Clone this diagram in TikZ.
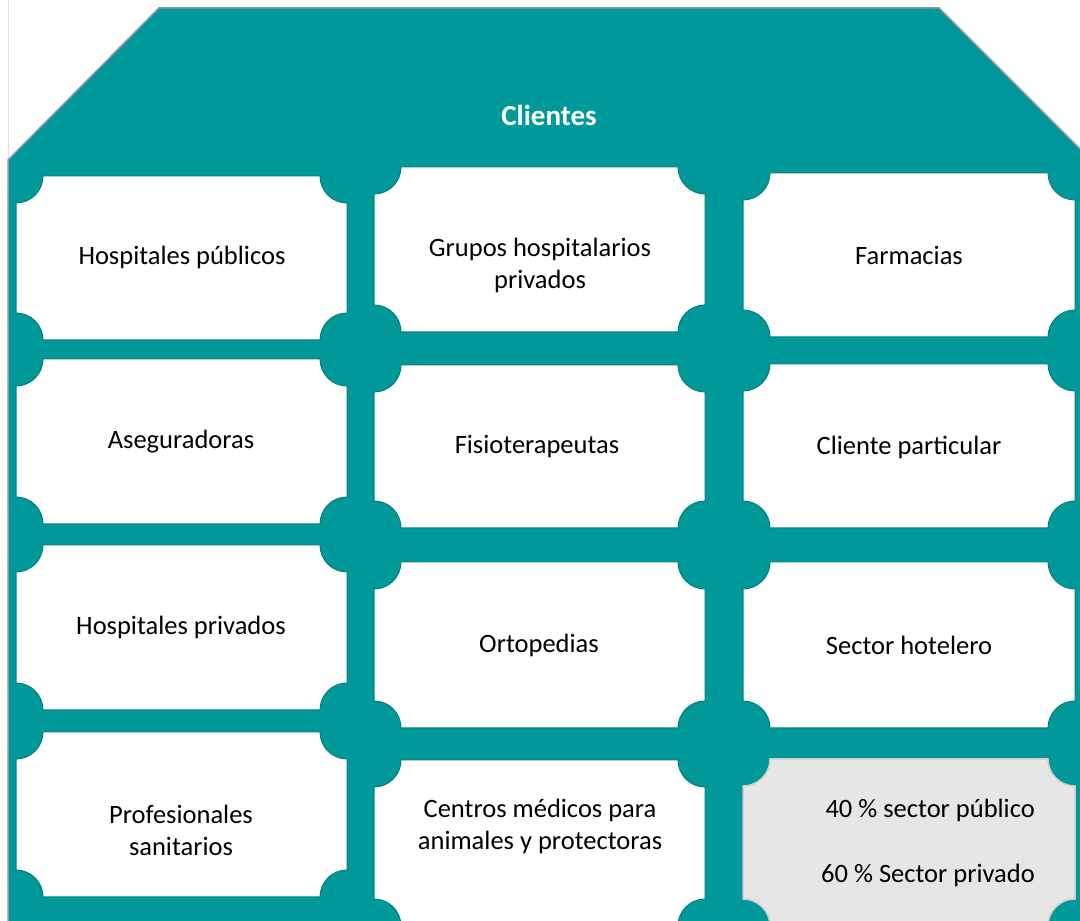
\documentclass[tikz,border=0pt]{standalone}
\usepackage{fontspec}
\setmainfont{Carlito}
\definecolor{tealmain}{RGB}{0,152,152}
\definecolor{tealedge}{RGB}{0,125,125}
\definecolor{edgeblue}{RGB}{132,150,176}
\definecolor{cellgray}{RGB}{230,230,230}
\definecolor{cellgrayline}{RGB}{205,205,205}
\definecolor{faintline}{RGB}{225,225,225}
\newcommand\plaquecell[5]{% x1, ybottom, x2, ytop, style
  \path[#5] (#1+27,#4) -- (#3-27,#4)
    arc[start angle=180,end angle=270,radius=27pt] -- (#3,#2+27)
    arc[start angle=90,end angle=180,radius=27pt] -- (#1+27,#2)
    arc[start angle=0,end angle=90,radius=27pt] -- (#1,#4-27)
    arc[start angle=270,end angle=360,radius=27pt] -- cycle;}
\begin{document}
\begin{tikzpicture}[x=1pt,y=1pt,
  cellwhite/.style={fill=white,draw=tealedge,line width=1pt},
  cellgrey/.style={fill=cellgray,draw=cellgrayline,line width=1.5pt},
  lbl/.style={font=\fontsize{26.5}{32}\selectfont,text=black,align=center,inner sep=0pt},
  titlelbl/.style={font=\fontsize{29}{34}\selectfont\bfseries,text=white,inner sep=0pt}]
\useasboundingbox (0,0) rectangle (1080,921);
\clip (0,0) rectangle (1080,921);
\fill[white] (0,0) rectangle (1080,921);
\draw[faintline,line width=1pt] (8,921) -- (8,760);
% roof and background
\path[fill=tealmain,draw=edgeblue,line width=1.5pt]
  (8,-10) -- (8,761) -- (159,913) -- (939,913) -- (1090,762) -- (1090,-10) -- cycle;
% column 1
\plaquecell{16}{581}{347}{745}{cellwhite}
\plaquecell{16}{397}{347}{562}{cellwhite}
\plaquecell{16}{211}{347}{376}{cellwhite}
\plaquecell{16}{24}{347}{189}{cellwhite}
% column 2
\plaquecell{374}{589}{705}{754}{cellwhite}
\plaquecell{374}{393}{705}{556}{cellwhite}
\plaquecell{374}{193}{705}{359}{cellwhite}
\plaquecell{374}{-5}{705}{161}{cellwhite}
% column 3
\plaquecell{743}{584}{1075}{748}{cellwhite}
\plaquecell{743}{393}{1075}{557}{cellwhite}
\plaquecell{743}{193}{1075}{359}{cellwhite}
\plaquecell{743}{-5}{1075}{162}{cellgrey}
% texts
\node[titlelbl] (title) at (549,806) {Clientes};
\node[lbl] (c11) at (182,664) {Hospitales públicos};
\node[lbl] (c21) at (540,656) {Grupos hospitalarios\\privados};
\node[lbl] (c31) at (909,666) {Farmacias};
\node[lbl] (c12) at (181,479) {Aseguradoras};
\node[lbl] (c22) at (537,474) {Fisioterapeutas};
\node[lbl] (c32) at (909,474) {Cliente particular};
\node[lbl] (c13) at (181,294) {Hospitales privados};
\node[lbl] (c23) at (539,276) {Ortopedias};
\node[lbl] (c33) at (909,276) {Sector hotelero};
\node[lbl] (c14) at (181,91) {Profesionales\\sanitarios};
\node[lbl] (c24) at (540,95) {Centros médicos para\\animales y protectoras};
\node[lbl,anchor=east] (c34a) at (1035,111) {40 \% sector público};
\node[lbl,anchor=east] (c34b) at (1035,46) {60 \% Sector privado};
\end{tikzpicture}
\end{document}
